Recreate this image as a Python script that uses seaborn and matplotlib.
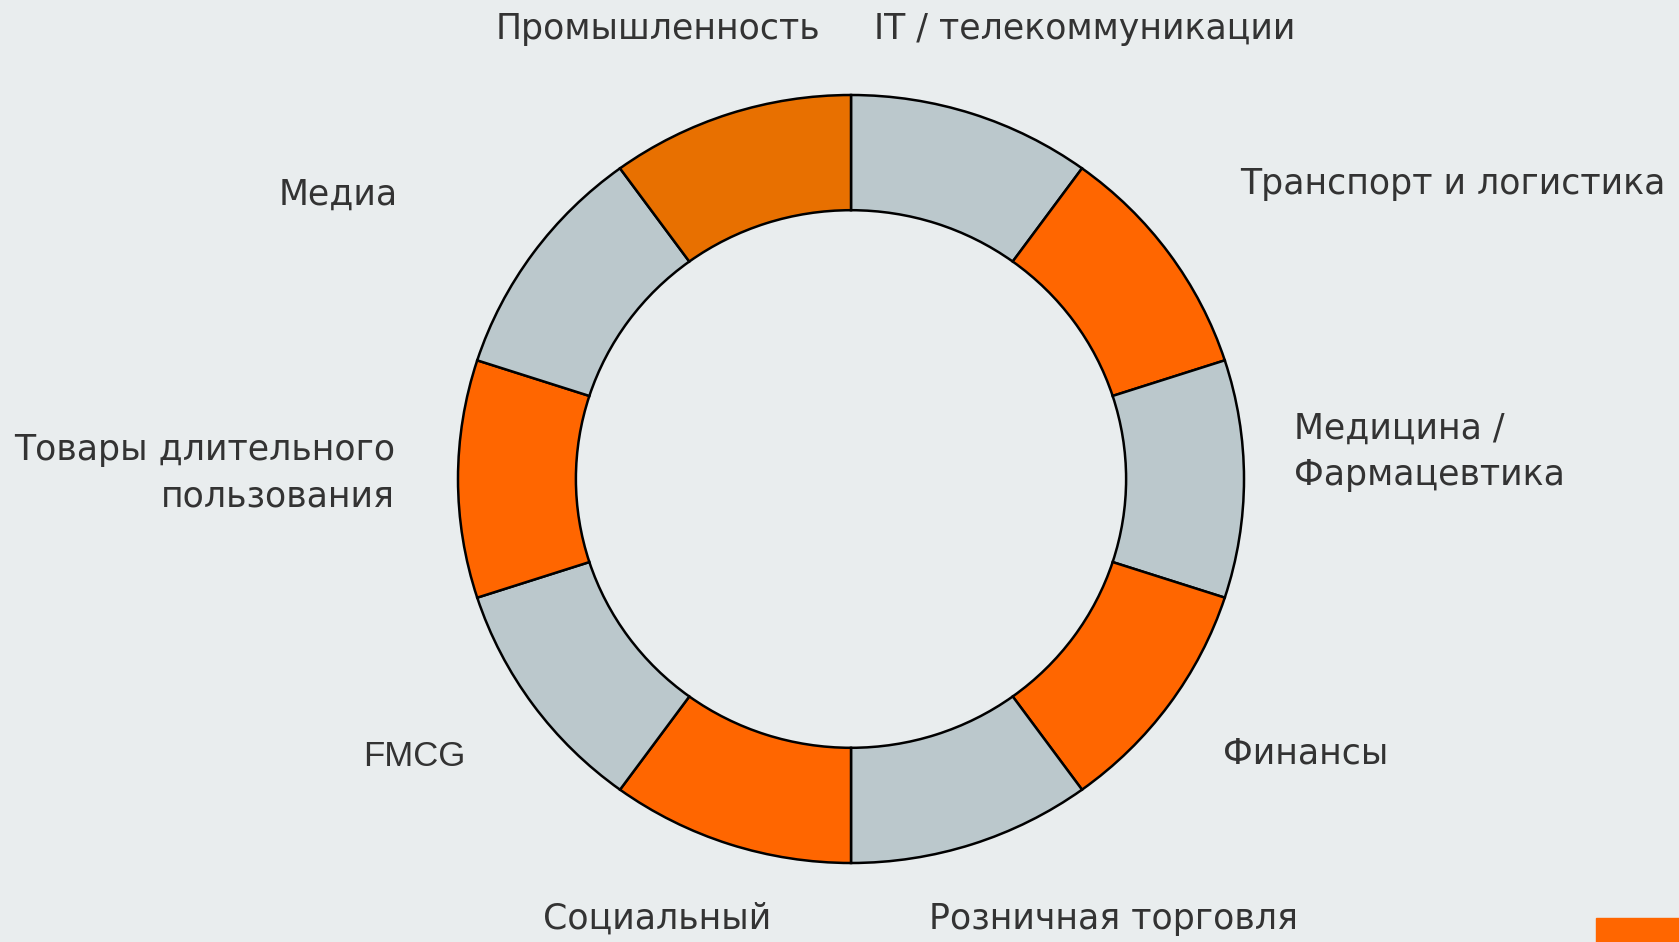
import matplotlib
matplotlib.use("Agg")
import matplotlib.pyplot as plt
import seaborn as sns

# sectors clockwise from 12 o'clock
sectors = ["IT / телекоммуникации", "Транспорт и логистика", "Медицина /\nФармацевтика",
           "Финансы", "Розничная торговля", "Социальный", "FMCG",
           "Товары длительного\nпользования", "Медиа", "Промышленность"]
shares = [1, 1, 1, 1, 1, 1, 1, 1, 1, 1]

gray = "#BBC8CC"
orange = "#FF6600"
colors = [gray, orange, gray, orange, gray, orange, gray, orange, gray, "#E87000"]

# label anchors in pixels of the 1679x942 canvas: (x, y, ha)
label_pos = [(874, 29, "left"), (1240, 184, "left"), (1294, 452, "left"),
             (1223, 753, "left"), (929, 919, "left"), (771, 919, "right"),
             (466, 757, "right"), (395, 473, "right"), (398, 195, "right"),
             (820, 29, "right")]

sns.set_style("white")
plt.rcParams["font.family"] = ["DejaVu Sans"]

W, H = 1679, 942
bg = "#E9EDEE"
fig = plt.figure(figsize=(W / 100, H / 100), dpi=100, facecolor=bg)
ax = fig.add_axes([0, 0, 1, 1])
ax.set_facecolor(bg)

ax.pie(shares, colors=colors, startangle=90, counterclock=False,
       wedgeprops=dict(width=0.3, edgecolor="black", linewidth=1.8))

# ring is a touch wider than tall in the original
cx, cy, rx, ry = 851, 479, 393, 384
ax.set_aspect("auto")
ax.set_xlim(-cx / rx, (W - cx) / rx)
ax.set_ylim(-(H - cy) / ry, cy / ry)
ax.axis("off")

for name, (px, py, ha) in zip(sectors, label_pos):
    fam = ["Liberation Sans"] if name == "FMCG" else ["DejaVu Sans"]
    fig.text(px / W, 1 - py / H, name, ha=ha, va="center", multialignment=ha,
             fontsize=25, color="#333333", family=fam, linespacing=1.45)

# small orange mark in the corner
fig.patches.append(plt.Rectangle((1596 / W, 0), (W - 1596) / W, 24 / H,
                                 transform=fig.transFigure, color=orange))

fig.savefig("out.png", dpi=100, facecolor=bg)
